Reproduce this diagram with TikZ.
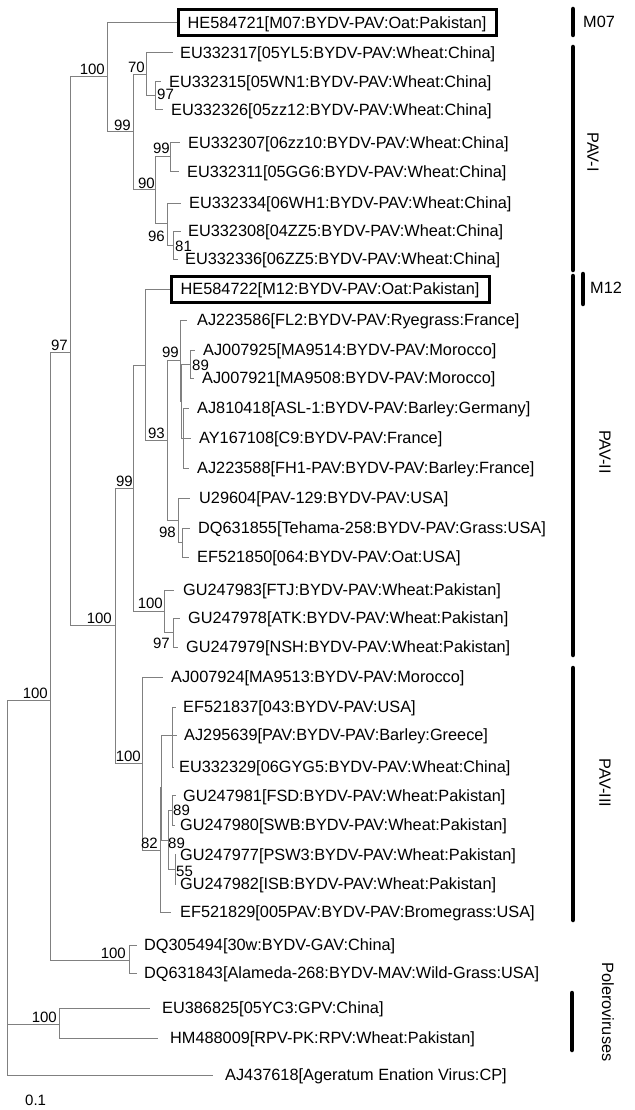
\documentclass[tikz,border=0pt]{standalone}
\usepackage{fontspec}
\setmainfont{Liberation Sans}
\definecolor{brc}{RGB}{128,128,128}
\begin{document}
\begin{tikzpicture}[x=1pt,y=-1pt,
  br/.style={draw=brc,line width=1pt},
  leaf/.style={inner sep=0pt,anchor=west,text height=11.7pt,text depth=0pt,font=\fontsize{16.3}{19}\selectfont},
  boxleaf/.style={leaf,draw=black,line width=3pt,inner xsep=9.7pt,minimum height=26pt},
  bs/.style={inner sep=0pt,font=\fontsize{15}{18}\selectfont},
  bar/.style={line width=4.5pt,line cap=round},
  grp/.style={inner sep=0pt,font=\fontsize{16.3}{19}\selectfont}]
\fill[white] (0,0) rectangle (634,1110);
\useasboundingbox (0,0) rectangle (634,1110);
% leaves
\node[boxleaf] (l1) at (176.5,23) {HE584721[M07:BYDV-PAV:Oat:Pakistan]};
\node[leaf] (l2) at (180,53) {EU332317[05YL5:BYDV-PAV:Wheat:China]};
\node[leaf] (l3) at (169,82) {EU332315[05WN1:BYDV-PAV:Wheat:China]};
\node[leaf] (l4) at (171,110) {EU332326[05zz12:BYDV-PAV:Wheat:China]};
\node[leaf] (l5) at (188,143) {EU332307[06zz10:BYDV-PAV:Wheat:China]};
\node[leaf] (l6) at (187,172) {EU332311[05GG6:BYDV-PAV:Wheat:China]};
\node[leaf] (l7) at (189,203) {EU332334[06WH1:BYDV-PAV:Wheat:China]};
\node[leaf] (l8) at (188,231) {EU332308[04ZZ5:BYDV-PAV:Wheat:China]};
\node[leaf] (l9) at (185,259) {EU332336[06ZZ5:BYDV-PAV:Wheat:China]};
\node[boxleaf] (l10) at (169.5,289) {HE584722[M12:BYDV-PAV:Oat:Pakistan]};
\node[leaf] (l11) at (197,320) {AJ223586[FL2:BYDV-PAV:Ryegrass:France]};
\node[leaf] (l12) at (203,350) {AJ007925[MA9514:BYDV-PAV:Morocco]};
\node[leaf] (l13) at (202,378) {AJ007921[MA9508:BYDV-PAV:Morocco]};
\node[leaf] (l14) at (197,408) {AJ810418[ASL-1:BYDV-PAV:Barley:Germany]};
\node[leaf] (l15) at (199,438) {AY167108[C9:BYDV-PAV:France]};
\node[leaf] (l16) at (197,468) {AJ223588[FH1-PAV:BYDV-PAV:Barley:France]};
\node[leaf] (l17) at (199,498) {U29604[PAV-129:BYDV-PAV:USA]};
\node[leaf] (l18) at (198,528) {DQ631855[Tehama-258:BYDV-PAV:Grass:USA]};
\node[leaf] (l19) at (197,557) {EF521850[064:BYDV-PAV:Oat:USA]};
\node[leaf] (l20) at (183,590) {GU247983[FTJ:BYDV-PAV:Wheat:Pakistan]};
\node[leaf] (l21) at (188,618) {GU247978[ATK:BYDV-PAV:Wheat:Pakistan]};
\node[leaf] (l22) at (186,647) {GU247979[NSH:BYDV-PAV:Wheat:Pakistan]};
\node[leaf] (l23) at (171,677) {AJ007924[MA9513:BYDV-PAV:Morocco]};
\node[leaf] (l24) at (183,707) {EF521837[043:BYDV-PAV:USA]};
\node[leaf] (l25) at (184,735) {AJ295639[PAV:BYDV-PAV:Barley:Greece]};
\node[leaf] (l26) at (179,767) {EU332329[06GYG5:BYDV-PAV:Wheat:China]};
\node[leaf] (l27) at (183,795.5) {GU247981[FSD:BYDV-PAV:Wheat:Pakistan]};
\node[leaf] (l28) at (180,825) {GU247980[SWB:BYDV-PAV:Wheat:Pakistan]};
\node[leaf] (l29) at (180,854.5) {GU247977[PSW3:BYDV-PAV:Wheat:Pakistan]};
\node[leaf] (l30) at (180,884) {GU247982[ISB:BYDV-PAV:Wheat:Pakistan]};
\node[leaf] (l31) at (180,912) {EF521829[005PAV:BYDV-PAV:Bromegrass:USA]};
\node[leaf] (l32) at (144,945) {DQ305494[30w:BYDV-GAV:China]};
\node[leaf] (l33) at (144,973) {DQ631843[Alameda-268:BYDV-MAV:Wild-Grass:USA]};
\node[leaf] (l34) at (162,1008) {EU386825[05YC3:GPV:China]};
\node[leaf] (l35) at (170,1038) {HM488009[RPV-PK:RPV:Wheat:Pakistan]};
\node[leaf] (l36) at (225,1075) {AJ437618[Ageratum Enation Virus:CP]};
% internal nodes
\coordinate (root) at (7,700);
\coordinate (n100a) at (50,700);
\coordinate (n97) at (70,352);
\coordinate (n100b) at (107,77);
\coordinate (n99a) at (133,132);
\coordinate (n70) at (146,75);
\coordinate (n97a) at (155,96);
\coordinate (n90) at (155,190);
\coordinate (n99b) at (170,157);
\coordinate (n96) at (167,223);
\coordinate (n81) at (173,245);
\coordinate (n100e) at (115,625);
\coordinate (n99d) at (133,488);
\coordinate (nM12) at (145,365);
\coordinate (n93) at (167,440);
\coordinate (n99c) at (180,360);
\coordinate (s1) at (181.5,401);
\coordinate (n89a) at (190,364);
\coordinate (s2) at (183,438);
\coordinate (n98) at (178,520);
\coordinate (s3) at (182,542);
\coordinate (n100c) at (164,611);
\coordinate (n97c) at (173,632);
\coordinate (n100d) at (142,763);
\coordinate (n82) at (160,850);
\coordinate (y1) at (161,787.5);
\coordinate (nA) at (172,735);
\coordinate (n89c) at (168,840);
\coordinate (n89b) at (172,810);
\coordinate (n55) at (175,869);
\coordinate (nDQ) at (129,960);
\coordinate (nPol) at (59,1024);
% branches
\draw[br] (root) -- (n100a);
\draw[br] (root) |- (nPol);
\draw[br] (root) |- ([xshift=-12pt]l36.west);
\draw[br] (n100a) |- (n97);
\draw[br] (n100a) |- (nDQ);
\draw[br] (n97) |- (n100b);
\draw[br] (n97) |- (n100e);
\draw[br] (n100b) |- (l1.west);
\draw[br] (n100b) |- (n99a);
\draw[br] (n99a) |- (n70);
\draw[br] (n99a) |- (n90);
\draw[br] (n70) |- ([xshift=-7pt]l2.west);
\draw[br] (n70) |- (n97a);
\draw[br] (n97a) |- ([xshift=-8pt]l3.west);
\draw[br] (n97a) |- ([xshift=-8pt]l4.west);
\draw[br] (n90) |- (n99b);
\draw[br] (n90) |- (n96);
\draw[br] (n99b) |- ([xshift=-8pt]l5.west);
\draw[br] (n99b) |- ([xshift=-8pt]l6.west);
\draw[br] (n96) |- ([xshift=-8pt]l7.west);
\draw[br] (n96) |- (n81);
\draw[br] (n81) |- ([xshift=-7pt]l8.west);
\draw[br] (n81) |- ([xshift=-7pt]l9.west);
\draw[br] (n100e) |- (n99d);
\draw[br] (n100e) |- (n100d);
\draw[br] (n99d) |- (nM12);
\draw[br] (n99d) |- (n100c);
\draw[br] (nM12) |- (l10.west);
\draw[br] (nM12) |- (n93);
\draw[br] (n93) |- (n99c);
\draw[br] (n93) |- (n98);
\draw[br] (n99c) |- ([xshift=-10pt]l11.west);
\draw[br] (n99c) |- (s1);
\draw[br] (s1) |- (n89a);
\draw[br] (s1) |- (s2);
\draw[br] (n89a) |- ([xshift=-8pt]l12.west);
\draw[br] (n89a) |- ([xshift=-8pt]l13.west);
\draw[br] (s2) |- ([xshift=-8pt]l14.west);
\draw[br] (s2) |- ([xshift=-8pt]l15.west);
\draw[br] (s2) |- ([xshift=-8pt]l16.west);
\draw[br] (n98) |- ([xshift=-9pt]l17.west);
\draw[br] (n98) |- (s3);
\draw[br] (s3) |- ([xshift=-8pt]l18.west);
\draw[br] (s3) |- ([xshift=-8pt]l19.west);
\draw[br] (n100c) |- ([xshift=-9pt]l20.west);
\draw[br] (n100c) |- (n97c);
\draw[br] (n97c) |- ([xshift=-8pt]l21.west);
\draw[br] (n97c) |- ([xshift=-8pt]l22.west);
\draw[br] (n100d) |- ([xshift=-8pt]l23.west);
\draw[br] (n100d) |- (n82);
\draw[br] (n82) |- (y1);
\draw[br] (n82) |- ([xshift=-9pt]l31.west);
\draw[br] (y1) |- (nA);
\draw[br] (y1) |- (n89c);
\draw[br] (nA) |- ([xshift=-7pt]l24.west);
\draw[br] (nA) |- ([xshift=-7pt]l25.west);
\draw[br] (nA) |- ([xshift=-5pt]l26.west);
\draw[br] (n89c) |- (n89b);
\draw[br] (n89c) |- (n55);
\draw[br] (n89b) |- ([xshift=-7pt]l27.west);
\draw[br] (n89b) |- ([xshift=-5pt]l28.west);
\draw[br] (n55) |- ([xshift=-4pt]l29.west);
\draw[br] (n55) |- ([xshift=-4pt]l30.west);
\draw[br] (nDQ) |- ([xshift=-7pt]l32.west);
\draw[br] (nDQ) |- ([xshift=-7pt]l33.west);
\draw[br] (nPol) |- ([xshift=-12pt]l34.west);
\draw[br] (nPol) |- ([xshift=-12pt]l35.west);
% bootstrap values
\node[bs,anchor=base east] (b1) at (105,75) {100};
\node[bs,anchor=base east] (b2) at (145,73) {70};
\node[bs,anchor=base west] (b3) at (157,100) {97};
\node[bs,anchor=base east] (b4) at (131,131) {99};
\node[bs,anchor=base east] (b5) at (170,154) {99};
\node[bs,anchor=base east] (b6) at (155,189) {90};
\node[bs,anchor=base east] (b7) at (165,241) {96};
\node[bs,anchor=base west] (b8) at (175,251) {81};
\node[bs,anchor=base east] (b9) at (68,350) {97};
\node[bs,anchor=base east] (b10) at (179,357) {99};
\node[bs,anchor=base west] (b11) at (192,370) {89};
\node[bs,anchor=base east] (b12) at (165,438) {93};
\node[bs,anchor=base east] (b13) at (133,486) {99};
\node[bs,anchor=base east] (b14) at (176,537) {98};
\node[bs,anchor=base east] (b15) at (163,608) {100};
\node[bs,anchor=base east] (b16) at (170,648) {97};
\node[bs,anchor=base east] (b17) at (112,623) {100};
\node[bs,anchor=base east] (b18) at (48,698) {100};
\node[bs,anchor=base east] (b19) at (141,761) {100};
\node[bs,anchor=base west] (b20) at (173,815.5) {89};
\node[bs,anchor=base east] (b21) at (158,848) {82};
\node[bs,anchor=base west] (b22) at (168,848) {89};
\node[bs,anchor=base west] (b23) at (176,876) {55};
\node[bs,anchor=base east] (b24) at (126,958) {100};
\node[bs,anchor=base east] (b25) at (57,1022) {100};
\node[bs,anchor=base west] (scale) at (25,1105) {0.1};
% group bars and labels
\draw[bar] (573,9) -- (573,35);
\draw[bar] (573,47) -- (573,270);
\draw[bar] (583,274) -- (583,304);
\draw[bar] (573,276) -- (573,655);
\draw[bar] (573,668) -- (573,920);
\draw[bar] (572,993) -- (572,1050);
\node[grp,anchor=west] (gM07) at (583,22) {M07};
\node[grp,rotate=-90] (gI) at (593,152) {PAV-I};
\node[grp,anchor=west] (gM12) at (590,288) {M12};
\node[grp,rotate=-90] (gII) at (605,452) {PAV-II};
\node[grp,rotate=-90] (gIII) at (605,783) {PAV-III};
\node[grp,rotate=-90] (gP) at (608,1012) {Poleroviruses};
\end{tikzpicture}
\end{document}
